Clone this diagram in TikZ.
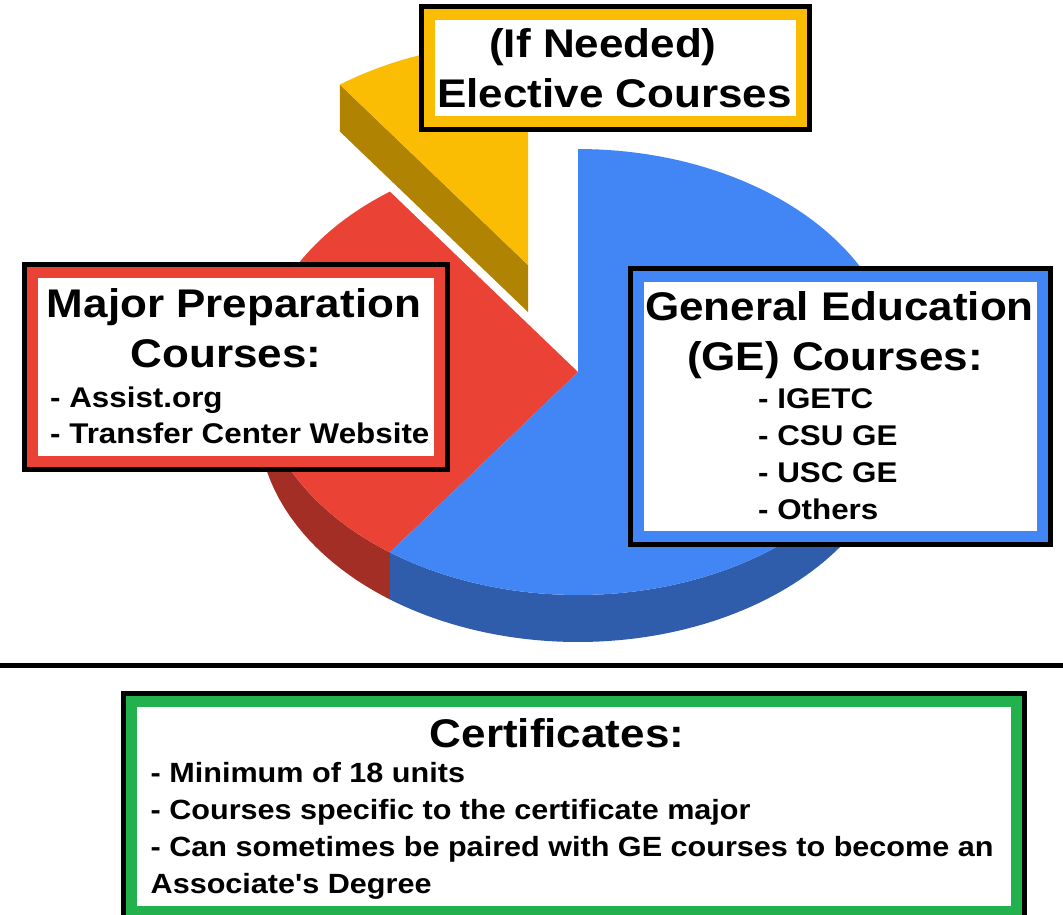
\documentclass[tikz,border=0pt]{standalone}
\usepackage{fontspec}
\newfontfamily\chartfont{Liberation Sans}[FakeStretch=1.1]
\usetikzlibrary{positioning}
\definecolor{gBlue}{HTML}{4285F4}
\definecolor{gBlueSide}{RGB}{47,93,171}
\definecolor{gRed}{HTML}{EA4335}
\definecolor{gRedSide}{RGB}{163,46,37}
\definecolor{gGold}{HTML}{FBBC04}
\definecolor{gGoldSide}{RGB}{176,131,3}
\definecolor{gGreen}{RGB}{34,177,76}
\def\pieRx{320}
\def\pieRy{223}
\def\pieDepth{47}
\tikzstyle{frame}=[draw=black,line width=5pt]
\tikzstyle{ttl}=[font=\chartfont\bfseries\fontsize{40}{48}\selectfont,inner sep=0pt,anchor=base]
\tikzstyle{lst}=[font=\chartfont\bfseries\fontsize{28.5}{34}\selectfont,inner sep=0pt,anchor=base west]
\tikzstyle{certlst}=[lst,font=\chartfont\bfseries\fontsize{27.8}{34}\selectfont]
\tikzset{cbox/.style={draw=#1,line width=11pt,fill=white,inner sep=0pt,outer sep=8pt}}

\begin{document}
\begin{tikzpicture}[x=1pt,y=-1pt]
  \useasboundingbox (0,0) rectangle (1063,914);
  \clip (0,0) rectangle (1063,914);

  % pie sides
  \fill[gRedSide] plot[domain=180:234,samples=60] ({578+\pieRx*cos(\x)},{372-\pieRy*sin(\x)})
    -- plot[domain=234:180,samples=60] ({578+\pieRx*cos(\x)},{372+\pieDepth-\pieRy*sin(\x)}) -- cycle;
  \fill[gBlueSide] plot[domain=234:360,samples=80] ({578+\pieRx*cos(\x)},{372-\pieRy*sin(\x)})
    -- plot[domain=360:234,samples=80] ({578+\pieRx*cos(\x)},{372+\pieDepth-\pieRy*sin(\x)}) -- cycle;
  \fill[gGoldSide] (528,265) -- ({528+\pieRx*cos(126)},{265-\pieRy*sin(126)}) -- ++(0,\pieDepth)
    -- (528,265+\pieDepth) -- cycle;
  % pie tops
  \fill[gRed] (578,372) -- plot[domain=126:234,samples=80] ({578+\pieRx*cos(\x)},{372-\pieRy*sin(\x)}) -- cycle;
  \fill[gBlue] (578,372) -- plot[domain=234:450,samples=120] ({578+\pieRx*cos(\x)},{372-\pieRy*sin(\x)}) -- cycle;
  \fill[gGold] (528,265) -- plot[domain=90:126,samples=40] ({528+\pieRx*cos(\x)},{265-\pieRy*sin(\x)}) -- cycle;

  % boxes
  \node[cbox=gGold,minimum width=372,minimum height=107] (elective) at (615.5,68) {};
  \node[cbox=gRed,minimum width=407,minimum height=189] (major) at (236,367) {};
  \node[cbox=gBlue,minimum width=404,minimum height=260] (general) at (840.5,406.5) {};
  \node[cbox=gGreen,minimum width=885,minimum height=210] (certs) at (574,806.5) {};
  \foreach \b in {elective,major,general,certs}
    \draw[frame] (\b.south west) rectangle (\b.north east);

  % separator
  \coordinate (ruleL) at (0,665);
  \coordinate (ruleR) at (1063,665);
  \draw[line width=5pt] (ruleL) -- (ruleR);

  % texts
  \node[ttl] (elecA) at (603,57) {(If Needed)};
  \node[ttl] (elecB) at (614.5,107) {Elective Courses};

  \node[ttl] (majA) at (234,317) {Major Preparation};
  \node[ttl] (majB) at (226,367) {Courses:};
  \foreach \entry [count=\i] in {Assist.org,Transfer Center Website}
    \node[lst] (maj\i) at (50,{371+36*\i}) {- \entry};

  \node[ttl] (geA) at (839.5,320) {General Education};
  \node[ttl] (geB) at (835,370) {(GE) Courses:};
  \foreach \entry [count=\i] in {IGETC,CSU GE,USC GE,Others}
    \node[lst] (ge\i) at (758,{371+37*\i}) {- \entry};

  \node[ttl] (certA) at (557,747) {Certificates:};
  \foreach \entry [count=\i] in {- Minimum of 18 units,- Courses specific to the certificate major,- Can sometimes be paired with GE courses to become an,Associate's Degree}
    \node[certlst] (cert\i) at (150.5,{745+37*\i}) {\entry};
\end{tikzpicture}
\end{document}
